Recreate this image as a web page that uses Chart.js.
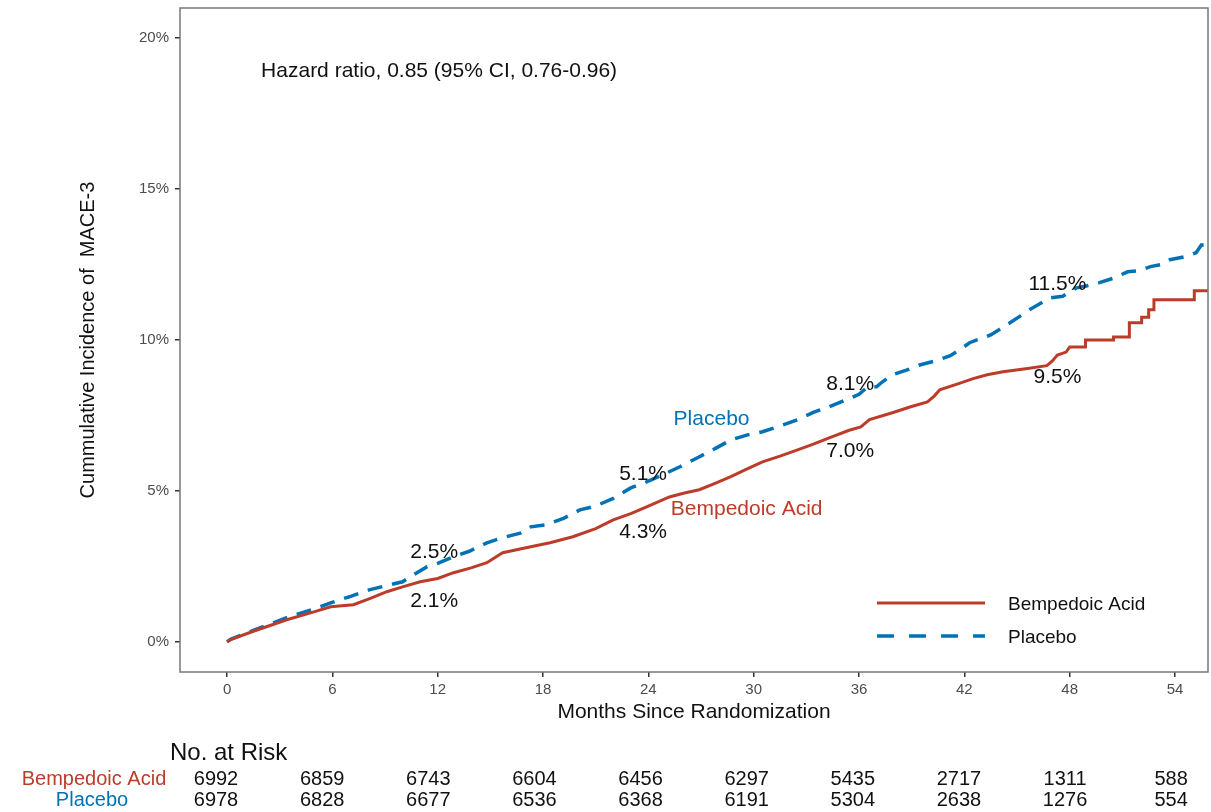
<!DOCTYPE html>
<html>
<head>
<meta charset="utf-8">
<script src="https://cdn.jsdelivr.net/npm/chart.js"></script>
<style>
  body { margin: 0; background: #fff; }
  canvas { display: block; }
</style>
</head>
<body>
<canvas id="kmChart" width="1211" height="812"></canvas>
<script>
// cumulative incidence (months, %)
const bempedoicMonths = [0, 0.2, 1.5, 3.4, 5.0, 5.9, 7.2, 8.2, 9.1, 10.0, 11.0, 12.0, 12.9, 13.9, 14.8, 15.7, 17.3, 18.4, 19.7, 21.0, 22.0, 23.0, 23.9, 25.2, 26.0, 26.9, 27.8, 28.7, 29.6, 30.5, 31.5, 32.5, 33.4, 34.3, 35.4, 36.1, 36.6, 37.9, 38.9, 39.9, 40.3, 40.6, 41.8, 42.5, 43.3, 44.2, 45.5, 46.7, 47.0, 47.3, 47.8, 48.0, 48.9, 48.9, 50.5, 50.5, 51.4, 51.4, 52.1, 52.1, 52.5, 52.5, 52.8, 52.8, 55.1, 55.1, 55.87];
const bempedoicPct    = [0, 0.07, 0.35, 0.73, 1.0, 1.16, 1.23, 1.45, 1.66, 1.82, 1.99, 2.1, 2.29, 2.45, 2.62, 2.95, 3.15, 3.28, 3.48, 3.75, 4.04, 4.25, 4.47, 4.8, 4.92, 5.04, 5.25, 5.47, 5.72, 5.96, 6.15, 6.36, 6.55, 6.76, 7.0, 7.12, 7.36, 7.59, 7.78, 7.95, 8.15, 8.35, 8.58, 8.72, 8.85, 8.95, 9.05, 9.15, 9.3, 9.5, 9.6, 9.77, 9.77, 10.0, 10.0, 10.1, 10.1, 10.57, 10.57, 10.75, 10.75, 11.0, 11.0, 11.33, 11.33, 11.63, 11.63];

const placeboMonths = [0, 0.2, 1.5, 3.4, 5.0, 5.9, 7.0, 8.1, 9.0, 10.0, 10.7, 11.4, 12.0, 12.9, 13.8, 14.8, 15.7, 16.7, 17.3, 18.2, 19.2, 20.1, 21.0, 22.0, 23.0, 23.9, 24.8, 25.8, 26.8, 27.8, 28.7, 29.6, 30.5, 31.5, 32.5, 33.4, 34.3, 35.2, 36.0, 36.5, 37.0, 37.3, 37.9, 38.7, 39.5, 40.3, 41.2, 41.8, 42.3, 43.5, 44.0, 44.6, 45.2, 45.7, 46.3, 46.9, 47.6, 48.4, 49.0, 49.7, 50.5, 51.3, 52.0, 52.6, 53.2, 53.7, 54.5, 55.2, 55.5, 55.87];
const placeboPct    = [0, 0.08, 0.38, 0.8, 1.1, 1.29, 1.5, 1.72, 1.85, 1.99, 2.25, 2.49, 2.6, 2.82, 3.0, 3.28, 3.45, 3.6, 3.81, 3.88, 4.1, 4.37, 4.5, 4.75, 5.1, 5.3, 5.53, 5.8, 6.1, 6.4, 6.69, 6.85, 6.96, 7.15, 7.36, 7.6, 7.79, 8.0, 8.2, 8.45, 8.45, 8.6, 8.85, 9.0, 9.18, 9.3, 9.48, 9.7, 9.91, 10.17, 10.35, 10.57, 10.8, 11.0, 11.2, 11.4, 11.45, 11.73, 11.8, 11.9, 12.05, 12.26, 12.3, 12.43, 12.5, 12.66, 12.75, 12.89, 13.15, 13.15];

const xTicks = [0, 6, 12, 18, 24, 30, 36, 42, 48, 54];
const yTicks = [0, 5, 10, 15, 20];

const riskMonths = [0, 6, 12, 18, 24, 30, 36, 42, 48, 54];
const riskBempedoic = [6992, 6859, 6743, 6604, 6456, 6297, 5435, 2717, 1311, 588];
const riskPlacebo   = [6978, 6828, 6677, 6536, 6368, 6191, 5304, 2638, 1276, 554];

// point estimate labels: text, month, % (anchor in data units)
const noteText  = ['2.5%', '2.1%', '5.1%', '4.3%', '8.1%', '7.0%', '11.5%', '9.5%'];
const noteMonth = [11.8, 11.8, 23.7, 23.7, 35.5, 35.5, 47.3, 47.3];
const notePct   = [2.97, 1.34, 5.55, 3.63, 8.53, 6.31, 11.85, 8.77];

const RED = '#BC3C29';
const BLUE = '#0072B5';
const FONT = "'Liberation Sans', Arial, sans-serif";

function pts(xs, ys) {
  return xs.map((x, i) => ({ x: x, y: ys[i] }));
}

const extras = {
  id: 'extras',
  afterDraw(chart) {
    const { ctx, chartArea: a, scales: { x, y } } = chart;
    ctx.save();

    // panel border
    ctx.strokeStyle = '#777';
    ctx.lineWidth = 1.5;
    ctx.strokeRect(a.left, a.top, a.right - a.left, a.bottom - a.top);

    ctx.textBaseline = 'middle';
    ctx.textAlign = 'left';
    ctx.fillStyle = '#111';
    ctx.font = '21px ' + FONT;
    ctx.fillText('Hazard ratio, 0.85 (95% CI, 0.76-0.96)', x.getPixelForValue(1.94), y.getPixelForValue(18.9));

    ctx.textAlign = 'center';
    noteText.forEach((t, i) => {
      ctx.fillText(t, x.getPixelForValue(noteMonth[i]), y.getPixelForValue(notePct[i]));
    });
    ctx.fillStyle = BLUE;
    ctx.fillText('Placebo', x.getPixelForValue(27.6), y.getPixelForValue(7.38));
    ctx.fillStyle = RED;
    ctx.fillText('Bempedoic Acid', x.getPixelForValue(29.6), y.getPixelForValue(4.39));

    // legend inside panel
    ctx.lineWidth = 3;
    ctx.strokeStyle = RED;
    ctx.beginPath(); ctx.moveTo(877, 603); ctx.lineTo(985, 603); ctx.stroke();
    ctx.strokeStyle = BLUE;
    ctx.lineWidth = 3.5;
    ctx.setLineDash([17, 15]);
    ctx.beginPath(); ctx.moveTo(877, 636); ctx.lineTo(985, 636); ctx.stroke();
    ctx.setLineDash([]);
    ctx.fillStyle = '#111';
    ctx.textAlign = 'left';
    ctx.font = '19px ' + FONT;
    ctx.fillText('Bempedoic Acid', 1008, 605);
    ctx.fillText('Placebo', 1008, 638);

    // number at risk table
    ctx.font = '24px ' + FONT;
    ctx.fillText('No. at Risk', 170, 753);
    ctx.font = '20px ' + FONT;
    ctx.textAlign = 'center';
    ctx.fillStyle = RED;
    ctx.fillText('Bempedoic Acid', 94, 779);
    ctx.fillStyle = BLUE;
    ctx.fillText('Placebo', 92, 800);
    ctx.fillStyle = '#111';
    const x0 = x.getPixelForValue(0);
    riskMonths.forEach((m, i) => {
      const px = 216 + (x.getPixelForValue(m) - x0) * 1.0076;
      ctx.fillText(String(riskBempedoic[i]), px, 779);
      ctx.fillText(String(riskPlacebo[i]), px, 800);
    });
    ctx.restore();
  }
};

new Chart(document.getElementById('kmChart'), {
  type: 'line',
  data: {
    datasets: [
      {
        label: 'Bempedoic Acid',
        data: pts(bempedoicMonths, bempedoicPct),
        borderColor: RED,
        borderWidth: 3,
        pointRadius: 0,
        tension: 0,
        fill: false
      },
      {
        label: 'Placebo',
        data: pts(placeboMonths, placeboPct),
        borderColor: BLUE,
        borderWidth: 3.5,
        borderDash: [15, 10],
        pointRadius: 0,
        tension: 0,
        fill: false
      }
    ]
  },
  options: {
    responsive: false,
    animation: false,
    layout: { padding: { top: 8, right: 3, left: 0, bottom: 0 } },
    plugins: {
      legend: { display: false },
      tooltip: { enabled: false }
    },
    scales: {
      x: {
        type: 'linear',
        min: -2.68,
        max: 55.88,
        afterFit: s => { s.height = 140; s.paddingLeft = 0; s.paddingRight = 0; },
        afterBuildTicks: s => { s.ticks = xTicks.map(v => ({ value: v })); },
        border: { display: false },
        grid: { drawOnChartArea: false, drawTicks: true, tickLength: 5, color: '#333', lineWidth: 1.5 },
        ticks: {
          color: '#4d4d4d',
          font: { family: FONT, size: 15 },
          padding: 4,
          maxRotation: 0,
          callback: v => String(v)
        },
        title: {
          display: true,
          text: 'Months Since Randomization',
          color: '#111',
          font: { family: FONT, size: 21 },
          padding: { top: 0, bottom: 87 }
        }
      },
      y: {
        min: -1,
        max: 21,
        afterFit: s => { s.width = 180; s.paddingTop = 0; s.paddingBottom = 0; },
        afterBuildTicks: s => { s.ticks = yTicks.map(v => ({ value: v })); },
        border: { display: false },
        grid: { drawOnChartArea: false, drawTicks: true, tickLength: 5, color: '#333', lineWidth: 1.5 },
        ticks: {
          color: '#4d4d4d',
          font: { family: FONT, size: 15 },
          padding: 6,
          callback: v => v + '%'
        },
        title: {
          display: true,
          text: 'Cummulative Incidence of  MACE-3',
          color: '#111',
          font: { family: FONT, size: 20 },
          padding: { top: 76, bottom: 0 }
        }
      }
    }
  },
  plugins: [extras]
});
</script>
</body>
</html>
